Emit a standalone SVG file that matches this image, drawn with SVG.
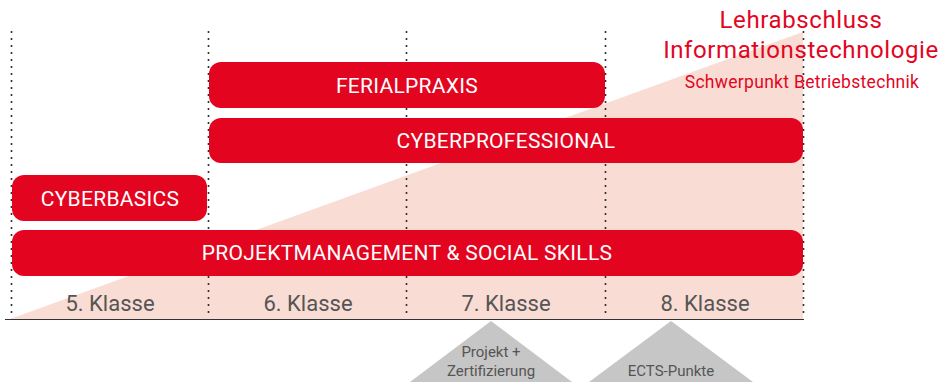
<svg xmlns="http://www.w3.org/2000/svg" width="939" height="382" viewBox="0 0 939 382">
<style>
.bar{fill:#e3051f}
.bt{fill:#fff;font-family:Roboto,"Liberation Sans",sans-serif;font-size:21px;text-anchor:middle;letter-spacing:0.3px}
.kl{fill:#555;font-family:Roboto,"Liberation Sans",sans-serif;font-size:22px;text-anchor:middle}
.tt{fill:#e3051f;font-family:Roboto,"Liberation Sans",sans-serif;text-anchor:middle}
.dot{stroke:#222;stroke-width:2;stroke-dasharray:0 7;stroke-linecap:round;fill:none}
.tri{fill:#c6c6c6}
.gt{fill:#555;font-family:Roboto,"Liberation Sans",sans-serif;font-size:15px;text-anchor:middle}
</style>
<rect width="939" height="382" fill="#fff"/>
<polygon points="10,319 803,32 803,319" fill="#f9dcd3"/>
<g id="grid">
<line class="dot" x1="11.5" y1="32" x2="11.5" y2="319"/>
<line class="dot" x1="208.5" y1="32" x2="208.5" y2="319"/>
<line class="dot" x1="406.5" y1="32" x2="406.5" y2="319"/>
<line class="dot" x1="605.5" y1="32" x2="605.5" y2="319"/>
<line class="dot" x1="803.5" y1="32" x2="803.5" y2="319"/>
<line x1="5" y1="319.5" x2="804" y2="319.5" stroke="#333" stroke-width="1.2"/>
</g>
<g id="title">
<text class="tt" x="801" y="28" font-size="24" letter-spacing="0.6">Lehrabschluss</text>
<text class="tt" x="801" y="58" font-size="24" letter-spacing="0.6">Informationstechnologie</text>
<text class="tt" x="802" y="88" font-size="17.5" letter-spacing="0.3">Schwerpunkt Betriebstechnik</text>
</g>
<g id="ferialpraxis"><rect class="bar" x="209" y="62" width="396" height="46" rx="12"/><text class="bt" x="407" y="93">FERIALPRAXIS</text></g>
<g id="cyberprofessional"><rect class="bar" x="209" y="118" width="594" height="45" rx="12"/><text class="bt" x="506" y="148">CYBERPROFESSIONAL</text></g>
<g id="cyberbasics"><rect class="bar" x="12" y="175" width="195" height="46" rx="12"/><text class="bt" x="110" y="206">CYBERBASICS</text></g>
<g id="projektmanagement"><rect class="bar" x="12" y="230" width="791" height="46" rx="12"/><text class="bt" x="407" y="260">PROJEKTMANAGEMENT &amp; SOCIAL SKILLS</text></g>
<g id="klassen">
<text class="kl" x="110" y="311">5. Klasse</text>
<text class="kl" x="308" y="311">6. Klasse</text>
<text class="kl" x="506" y="311">7. Klasse</text>
<text class="kl" x="705" y="311">8. Klasse</text>
</g>
<g id="projekt"><polygon class="tri" points="491,321 410,382 572,382"/><text class="gt" x="491" y="357">Projekt +</text><text class="gt" x="491" y="376">Zertifizierung</text></g>
<g id="ects"><polygon class="tri" points="671,321 589,382 753,382"/><text class="gt" x="671" y="376">ECTS-Punkte</text></g>
</svg>
